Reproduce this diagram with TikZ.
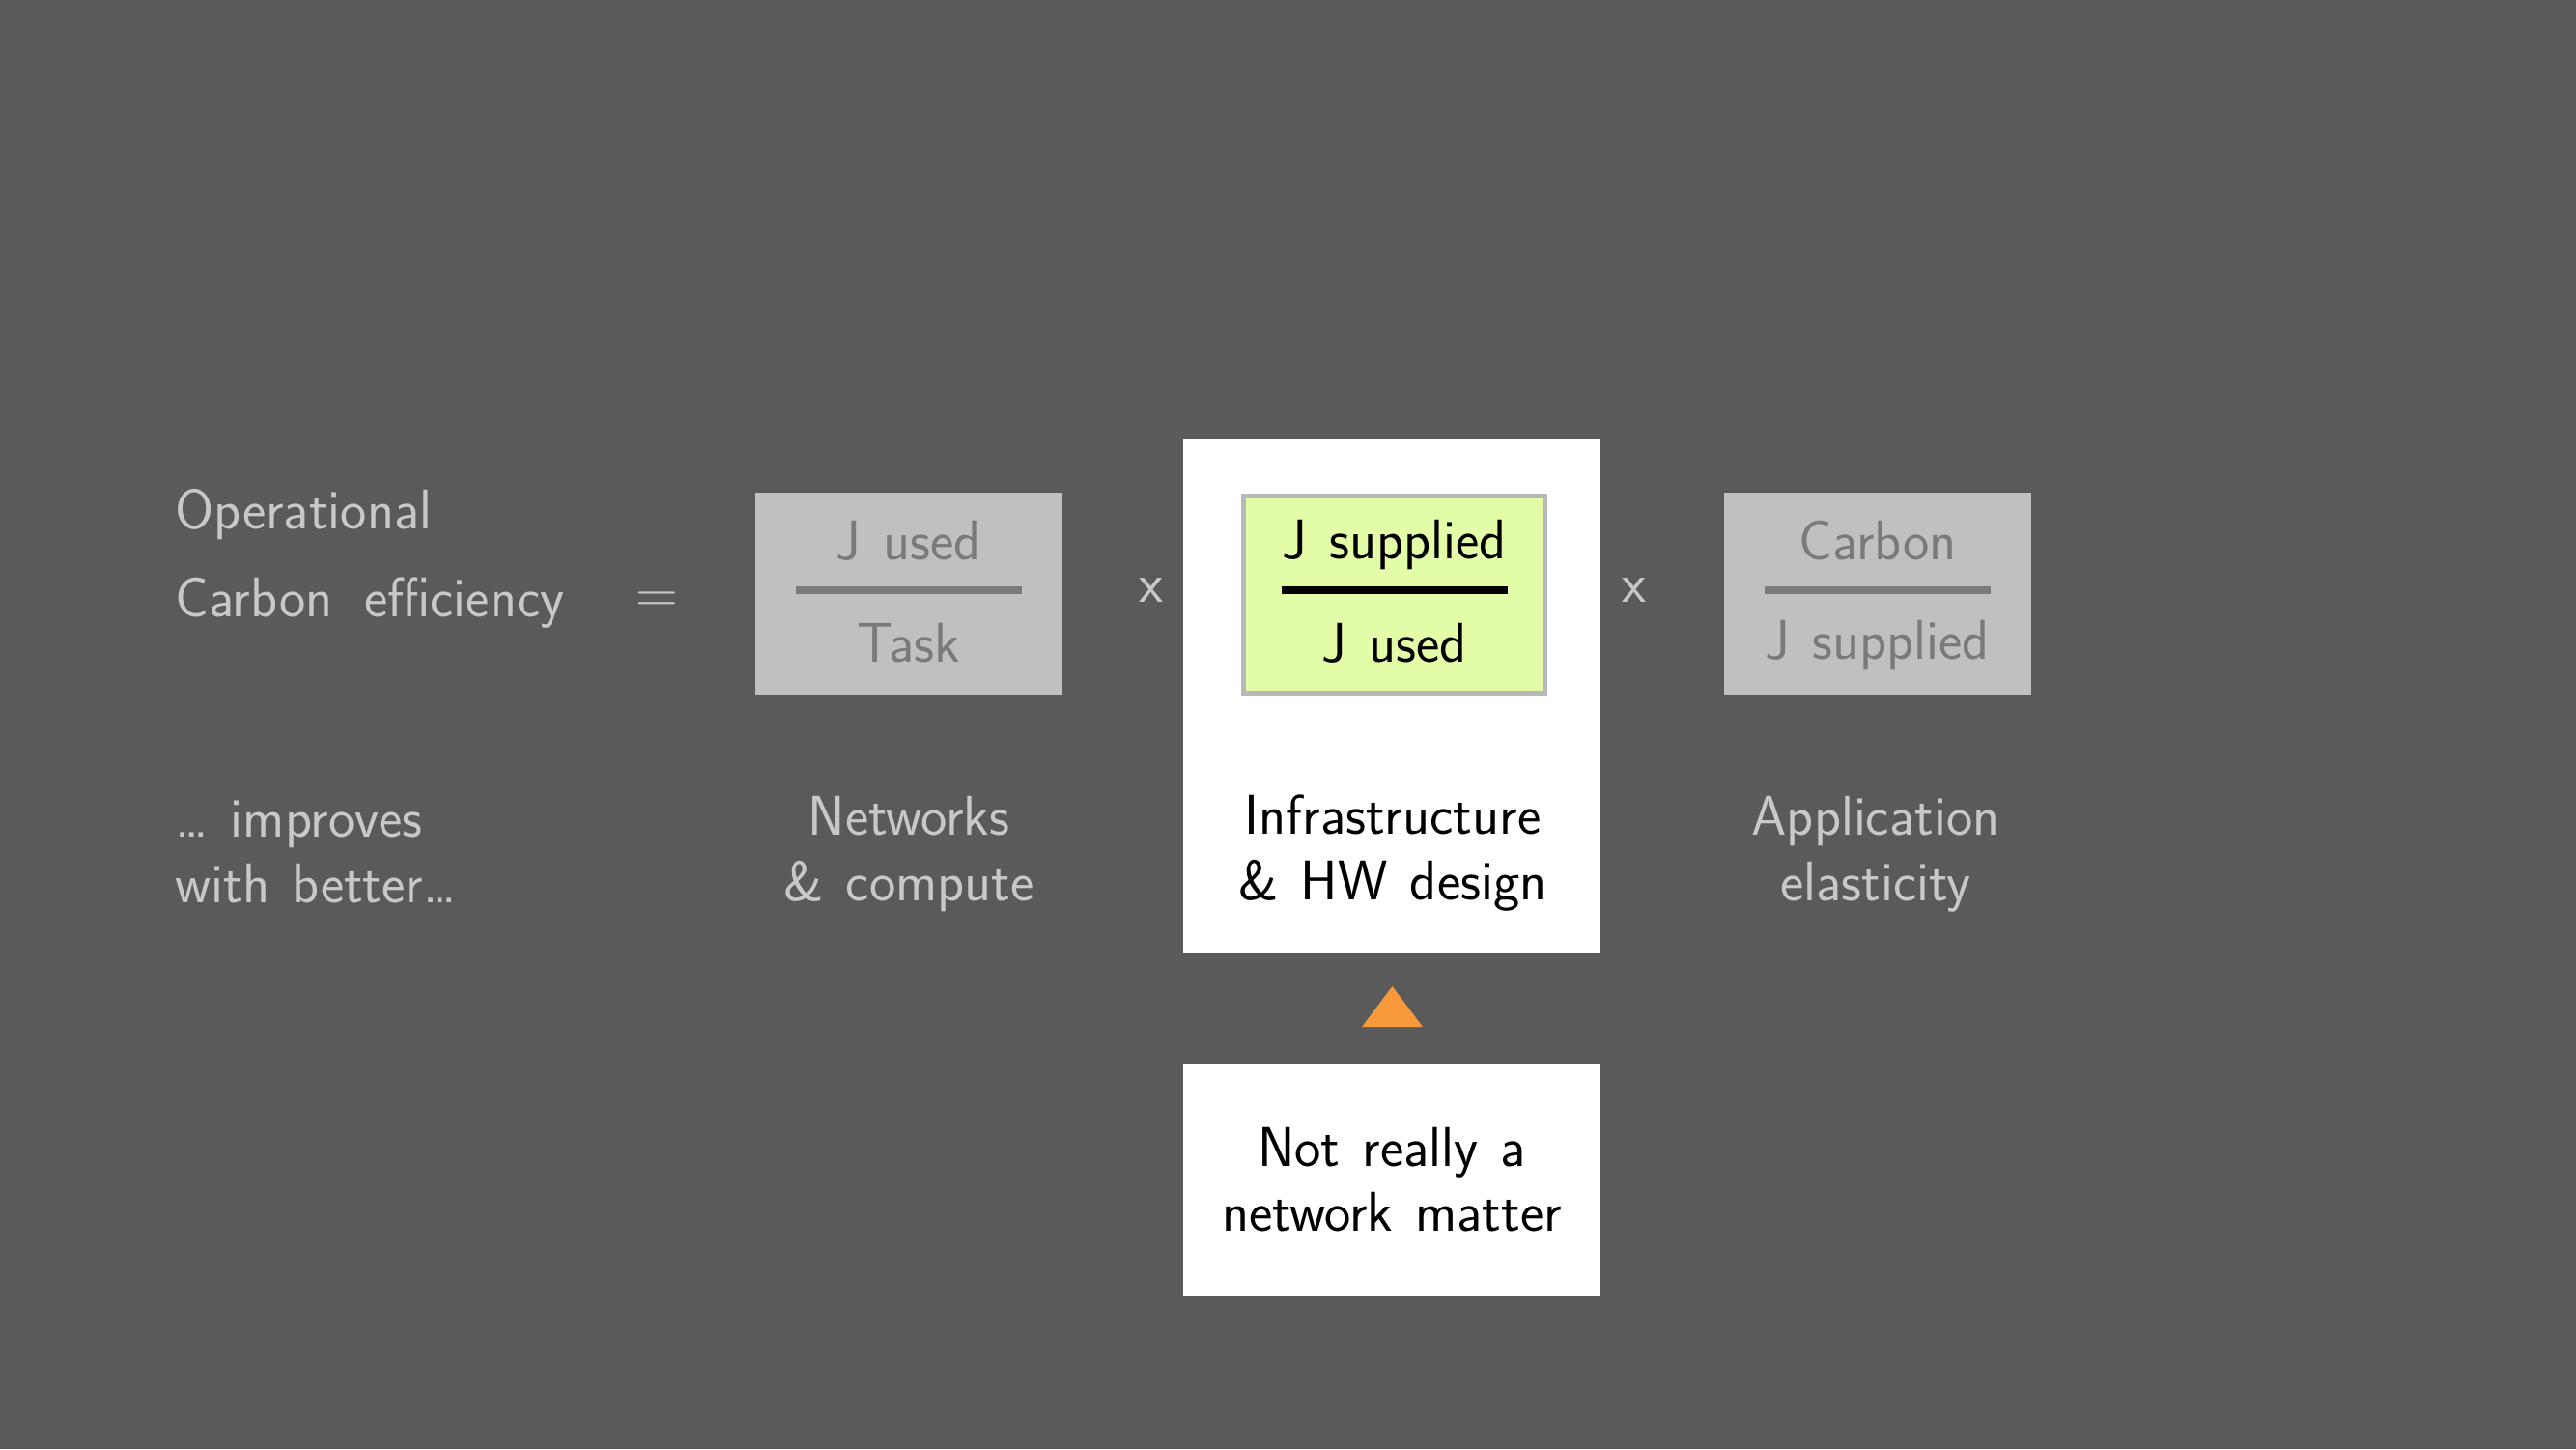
\documentclass[tikz,border=0pt]{standalone}
\usepackage{xcolor}
\usepackage{tikz}
\usetikzlibrary{positioning}
\definecolor{slidebg}{HTML}{5A5A5A}
\definecolor{dimfill}{HTML}{C0C0C0}
\definecolor{dimtext}{HTML}{7A7A7A}
\definecolor{paletext}{HTML}{C8C8C8}
\definecolor{hilite}{HTML}{E2FCA8}
\definecolor{hiborder}{HTML}{B8B8B8}
\definecolor{marker}{HTML}{F7993A}
\newcommand{\slidefont}{\sffamily\fontsize{16.5}{19.3}\selectfont\spaceskip 0.4em\relax}

\begin{document}
\begin{tikzpicture}[
  every node/.style={font=\slidefont},
  dimbox/.style={fill=dimfill, minimum width=3.18cm, minimum height=2.09cm, inner sep=0},
  hibox/.style={fill=hilite, draw=hiborder, line width=1.2pt,
    minimum width=3.12cm, minimum height=2.04cm, inner sep=0},
  panel/.style={fill=white, minimum width=4.32cm, inner sep=0},
  pale/.style={text=paletext, align=center},
  dimterm/.style={text=dimtext},
  hiterm/.style={text=black},
  dimrule/.style={draw=dimtext, line width=2.4pt},
  hirule/.style={draw=black, line width=2.4pt}
]
  \fill[slidebg] (0,0) rectangle (26.67,-15);
  \useasboundingbox (0,0) rectangle (26.67,-15);

  % left-hand side
  \node[pale, anchor=west] (opline) at (1.69,-5.33) {Operational};
  \node[pale, anchor=west] (effline) at (1.69,-6.24) {Carbon \,efficiency};
  \node[pale] (equals) at (6.80,-6.24) {$=$};

  % the three factors
  \node[panel, minimum height=5.33cm] (infrapanel) at (14.41,-7.205) {};
  \node[dimbox] (usedbox) at (9.41,-6.145) {};
  \node[hibox] (supbox) at (14.435,-6.155) {};
  \node[dimbox] (carbbox) at (19.44,-6.145) {};

  \node[dimterm] (usednum) at (9.41,-5.60) {J used};
  \node[dimterm] (taskden) at (9.41,-6.66) {Task};
  \draw[dimrule] ([xshift=-1.17cm,yshift=0.035cm]usedbox.center) -- ([xshift=1.17cm,yshift=0.035cm]usedbox.center);

  \node[hiterm] (supnum) at (14.435,-5.64) {J supplied};
  \node[hiterm] (usedden) at (14.435,-6.66) {J used};
  \draw[hirule] ([xshift=-1.17cm,yshift=0.045cm]supbox.center) -- ([xshift=1.17cm,yshift=0.045cm]supbox.center);

  \node[dimterm] (carbnum) at (19.44,-5.60) {Carbon};
  \node[dimterm] (supden) at (19.44,-6.68) {J supplied};
  \draw[dimrule] ([xshift=-1.17cm,yshift=0.035cm]carbbox.center) -- ([xshift=1.17cm,yshift=0.035cm]carbbox.center);

  \node[pale] (timesa) at (11.92,-6.11) {x};
  \node[pale] (timesb) at (16.92,-6.11) {x};

  % what each factor depends on
  \node[pale, align=left, anchor=west] (improves) at (1.69,-8.82) {\dots{} improves\\with better\dots};
  \node[pale] (netlabel) at (9.41,-8.84) {Networks\\\& compute};
  \node[pale, text=black] (infralabel) at (14.42,-8.83) {Infrastructure\\\& HW design};
  \node[pale] (applabel) at (19.42,-8.84) {Application\\elasticity};

  % pointer and remark
  \fill[marker] (14.10,-10.63) -- (14.73,-10.63) -- (14.415,-10.21) -- cycle;
  \node[panel, minimum height=2.41cm, align=center] (remark) at (14.41,-12.21) {Not really a\\network matter};
\end{tikzpicture}
\end{document}
